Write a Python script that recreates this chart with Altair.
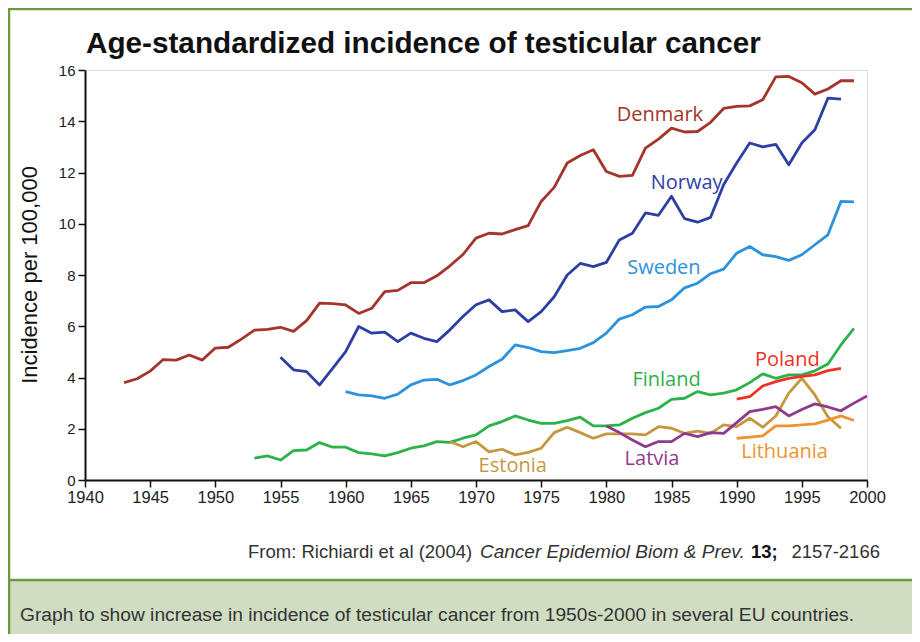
import altair as alt
import pandas as pd

countries = ["Denmark", "Norway", "Sweden", "Finland", "Estonia", "Latvia", "Poland", "Lithuania"]
colors = ["#a5342b", "#2e3fa3", "#2b93dc", "#2db24a", "#c6983e", "#8f3a8c", "#ee3124", "#f0922f"]

denmark_start = 1943
denmark = [3.8, 3.95, 4.25, 4.7, 4.68, 4.88, 4.68, 5.15, 5.18, 5.5, 5.85, 5.88, 5.96, 5.8, 6.22,
           6.9, 6.88, 6.83, 6.5, 6.7, 7.35, 7.4, 7.7, 7.7, 7.97, 8.36, 8.8, 9.44, 9.63, 9.6, 9.77,
           9.93, 10.87, 11.42, 12.37, 12.66, 12.89, 12.04, 11.85, 11.89, 12.95, 13.3, 13.73, 13.58,
           13.6, 13.96, 14.5, 14.58, 14.6, 14.84, 15.73, 15.75, 15.5, 15.06, 15.26, 15.58, 15.58]

norway_start = 1955
norway = [4.79, 4.3, 4.23, 3.71, 4.36, 5.01, 5.99, 5.73, 5.77, 5.4, 5.73, 5.53, 5.4, 5.86, 6.38,
          6.84, 7.03, 6.57, 6.64, 6.18, 6.57, 7.15, 8.0, 8.45, 8.33, 8.49, 9.37, 9.63, 10.42, 10.33,
          11.07, 10.2, 10.06, 10.25, 11.52, 12.37, 13.15, 13.0, 13.1, 12.3, 13.15, 13.67, 14.9, 14.86]

sweden_start = 1960
sweden = [3.45, 3.32, 3.28, 3.19, 3.35, 3.71, 3.9, 3.93, 3.71, 3.88, 4.1, 4.43, 4.71, 5.27, 5.17,
          5.01, 4.97, 5.05, 5.14, 5.36, 5.73, 6.28, 6.45, 6.75, 6.77, 7.03, 7.5, 7.68, 8.05, 8.23,
          8.85, 9.11, 8.79, 8.72, 8.57, 8.79, 9.18, 9.57, 10.87, 10.85]

finland_start = 1953
finland = [0.85, 0.94, 0.78, 1.15, 1.17, 1.46, 1.28, 1.28, 1.07, 1.02, 0.94, 1.07, 1.24, 1.33, 1.5,
           1.47, 1.63, 1.76, 2.11, 2.28, 2.5, 2.34, 2.21, 2.21, 2.32, 2.45, 2.11, 2.11, 2.15, 2.41,
           2.63, 2.8, 3.15, 3.19, 3.45, 3.32, 3.39, 3.52, 3.8, 4.14, 3.97, 4.1, 4.1, 4.26, 4.53,
           5.27, 5.92]

estonia_start = 1968
estonia = [1.5, 1.3, 1.5, 1.1, 1.2, 0.98, 1.08, 1.24, 1.85, 2.06, 1.85, 1.63, 1.8, 1.8, 1.8, 1.76,
           2.08, 2.02, 1.82, 1.91, 1.82, 2.15, 2.08, 2.41, 2.06, 2.5, 3.39, 3.97, 3.32, 2.47, 2.02]

latvia_start = 1980
latvia = [2.11, 1.85, 1.56, 1.3, 1.5, 1.5, 1.82, 1.69, 1.85, 1.82, 2.24, 2.67, 2.76, 2.86, 2.5,
          2.75, 2.97, 2.85, 2.7, 3.0, 3.28]

poland_start = 1990
poland = [3.16, 3.25, 3.67, 3.84, 3.97, 4.04, 4.1, 4.27, 4.36]

lithuania_start = 1990
lithuania = [1.63, 1.67, 1.72, 2.11, 2.11, 2.15, 2.19, 2.34, 2.5, 2.32]

# label anchor (year, value) in data units
label_year = [1980.8, 1983.4, 1981.6, 1982.0, 1970.2, 1981.4, 1991.4, 1990.35]
label_value = [14.24, 11.59, 8.27, 3.9, 0.55, 0.82, 4.68, 1.09]

x_ticks = list(range(1940, 2001, 5))
y_ticks = list(range(0, 17, 2))

series = {
    "Denmark": (denmark_start, denmark),
    "Norway": (norway_start, norway),
    "Sweden": (sweden_start, sweden),
    "Finland": (finland_start, finland),
    "Estonia": (estonia_start, estonia),
    "Latvia": (latvia_start, latvia),
    "Poland": (poland_start, poland),
    "Lithuania": (lithuania_start, lithuania),
}
rows = []
for c, (s, vals) in series.items():
    for i, v in enumerate(vals):
        rows.append({"country": c, "year": s + i, "value": v})
df = pd.DataFrame(rows)
labels = pd.DataFrame({"country": countries, "year": label_year, "value": label_value})

W, H = 782, 410
PL, PT = 77, 62
SVG_W, SVG_H = 904, 626

xscale = alt.Scale(domain=[1940, 2000], nice=False, zero=False)
yscale = alt.Scale(domain=[0, 16], nice=False)
cscale = alt.Scale(domain=countries, range=colors)

sans = "Liberation Sans"

lines = alt.Chart(df).mark_line(strokeWidth=2.8, strokeJoin="round").encode(
    x=alt.X("year:Q", scale=xscale,
            axis=alt.Axis(values=x_ticks, format="d", title=None, labelFont=sans,
                          labelFontSize=16.5, labelColor="#222", labelPadding=2,
                          domainColor="#111", domainWidth=2, tickColor="#111",
                          tickWidth=1.5, tickSize=7, grid=False, labelFlush=False)),
    y=alt.Y("value:Q", scale=yscale,
            axis=alt.Axis(values=y_ticks, title=None, labelFont=sans,
                          labelFontSize=15, labelColor="#222", labelPadding=3,
                          domainColor="#111", domainWidth=2, tickColor="#111",
                          tickWidth=1.5, tickSize=7, grid=False)),
    color=alt.Color("country:N", scale=cscale, legend=None),
    detail="country:N",
)

text_labels = alt.Chart(labels).mark_text(
    font="Open Sans", fontSize=20, align="left", baseline="middle"
).encode(
    x=alt.X("year:Q", scale=xscale),
    y=alt.Y("value:Q", scale=yscale),
    text="country:N",
    color=alt.Color("country:N", scale=cscale, legend=None),
)


def txt(s, x, y, **kw):
    return alt.Chart(pd.DataFrame({"t": [s]})).mark_text(**kw).encode(
        x=alt.value(x), y=alt.value(y), text="t:N")


title = txt("Age-standardized incidence of testicular cancer", 1, -17,
            font=sans, fontSize=29.7, fontWeight="bold", align="left",
            baseline="alphabetic", color="#111")
ytitle = txt("Incidence per 100,000", -55, 205, font=sans, fontSize=22,
             angle=270, align="center", baseline="middle", color="#111")

src_y = 488
src1 = txt("From: Richiardi et al (2004)", 163, src_y, font=sans, fontSize=18.5,
           align="left", baseline="alphabetic", color="#333")
src2 = txt("Cancer Epidemiol Biom & Prev.", 395, src_y, font=sans, fontSize=19,
           fontStyle="italic", align="left", baseline="alphabetic", color="#333")
src3 = txt("13;", 666, src_y, font=sans, fontSize=18.5, fontWeight="bold",
           align="left", baseline="alphabetic", color="#111")
src4 = txt("2157-2166", 795, src_y, font=sans, fontSize=18.5,
           align="right", baseline="alphabetic", color="#333")

box = alt.Chart(pd.DataFrame({"a": [0]})).mark_rect(color="#d1ddc3").encode(
    x=alt.value(-PL), x2=alt.value(SVG_W - PL), y=alt.value(510), y2=alt.value(SVG_H - PT))
green = "#6b9a3c"
rule_box = alt.Chart(pd.DataFrame({"a": [0]})).mark_rule(color=green, strokeWidth=2.5).encode(
    x=alt.value(-PL), x2=alt.value(SVG_W - PL), y=alt.value(510))
rule_top = alt.Chart(pd.DataFrame({"a": [0]})).mark_rule(color=green, strokeWidth=2.5).encode(
    x=alt.value(-PL), x2=alt.value(SVG_W - PL), y=alt.value(-PT + 1))
rule_left = alt.Chart(pd.DataFrame({"a": [0]})).mark_rule(color=green, strokeWidth=2.5).encode(
    x=alt.value(-PL + 1), y=alt.value(-PT), y2=alt.value(SVG_H - PT))

caption = txt("Graph to show increase in incidence of testicular cancer from 1950s-2000 in several EU countries.",
              -65, 551, font=sans, fontSize=19.2, align="left", baseline="alphabetic", color="#333")

chart = alt.layer(
    box, rule_box, rule_top, rule_left, lines, text_labels, title, ytitle,
    src1, src2, src3, src4, caption
).properties(
    width=W, height=H,
    autosize=alt.AutoSizeParams(type="none"),
    padding={"left": PL, "top": PT, "right": SVG_W - PL - W, "bottom": SVG_H - PT - H},
).configure_view(stroke=None).configure(background="white")

chart.save("out.html", embed_options={"renderer": "svg", "actions": False})
